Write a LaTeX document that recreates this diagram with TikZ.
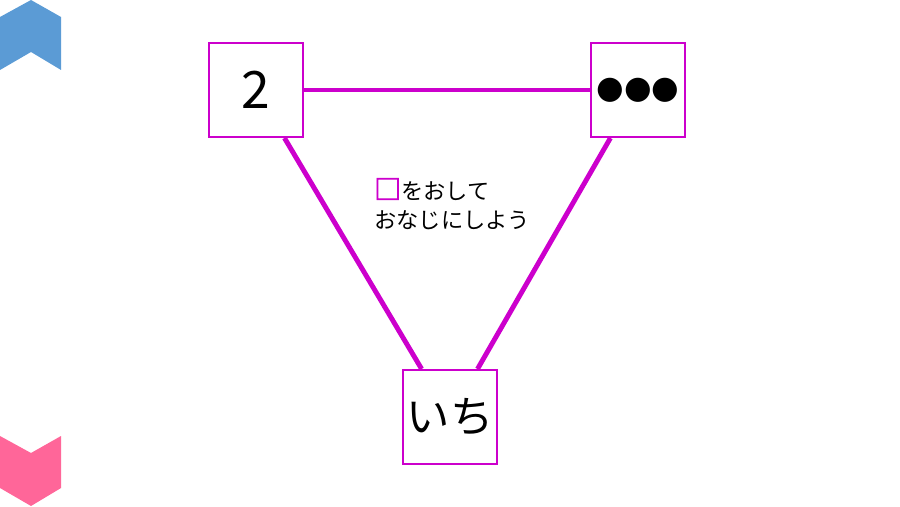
\documentclass[tikz,border=0pt]{standalone}
\usepackage{fontspec}
\setmainfont{Noto Sans CJK JP}
\newfontfamily\symfont{DejaVu Sans}
\usetikzlibrary{positioning}
\definecolor{magentaline}{HTML}{CC00CC}
\definecolor{chevblue}{HTML}{5B9BD5}
\definecolor{chevpink}{HTML}{FF6699}
\newcommand{\sq}{{\color{magentaline}\fontsize{23}{23}\selectfont\addfontfeature{FakeBold=3}□}}

\begin{document}
\begin{tikzpicture}[x=0.03cm, y=-0.03cm,
  card/.style={draw=magentaline, line width=1.7pt, fill=white, minimum size=2.82cm, inner sep=0pt},
  link/.style={magentaline, line width=4.2pt}]
\useasboundingbox (0,0) rectangle (900,506);
% chevrons on the left
\fill[chevblue] (0,17) -- (31,0) -- (61,17) -- (61,70) -- (31,52) -- (0,70) -- cycle;
\fill[chevpink] (0,436) -- (31,453) -- (61,436) -- (61,488) -- (31,506) -- (0,488) -- cycle;
% cards
\node[card, font=\fontsize{44}{44}\selectfont] (two) at (256,90) {2};
\node[card, font=\symfont\fontsize{27}{27}\selectfont] (dots) at (638,90) {●●●};
\node[card, font=\fontsize{37}{37}\selectfont] (ichi) at (450,417) {いち};
\node[anchor=north west, align=left, font=\fontsize{19}{25}\selectfont, inner sep=0pt] (hint) at (374,178) {\sq をおして\\おなじにしよう};
% links
\draw[link] (two) -- (dots);
\draw[link] (two) -- (ichi);
\draw[link] (dots) -- (ichi);
\end{tikzpicture}
\end{document}
